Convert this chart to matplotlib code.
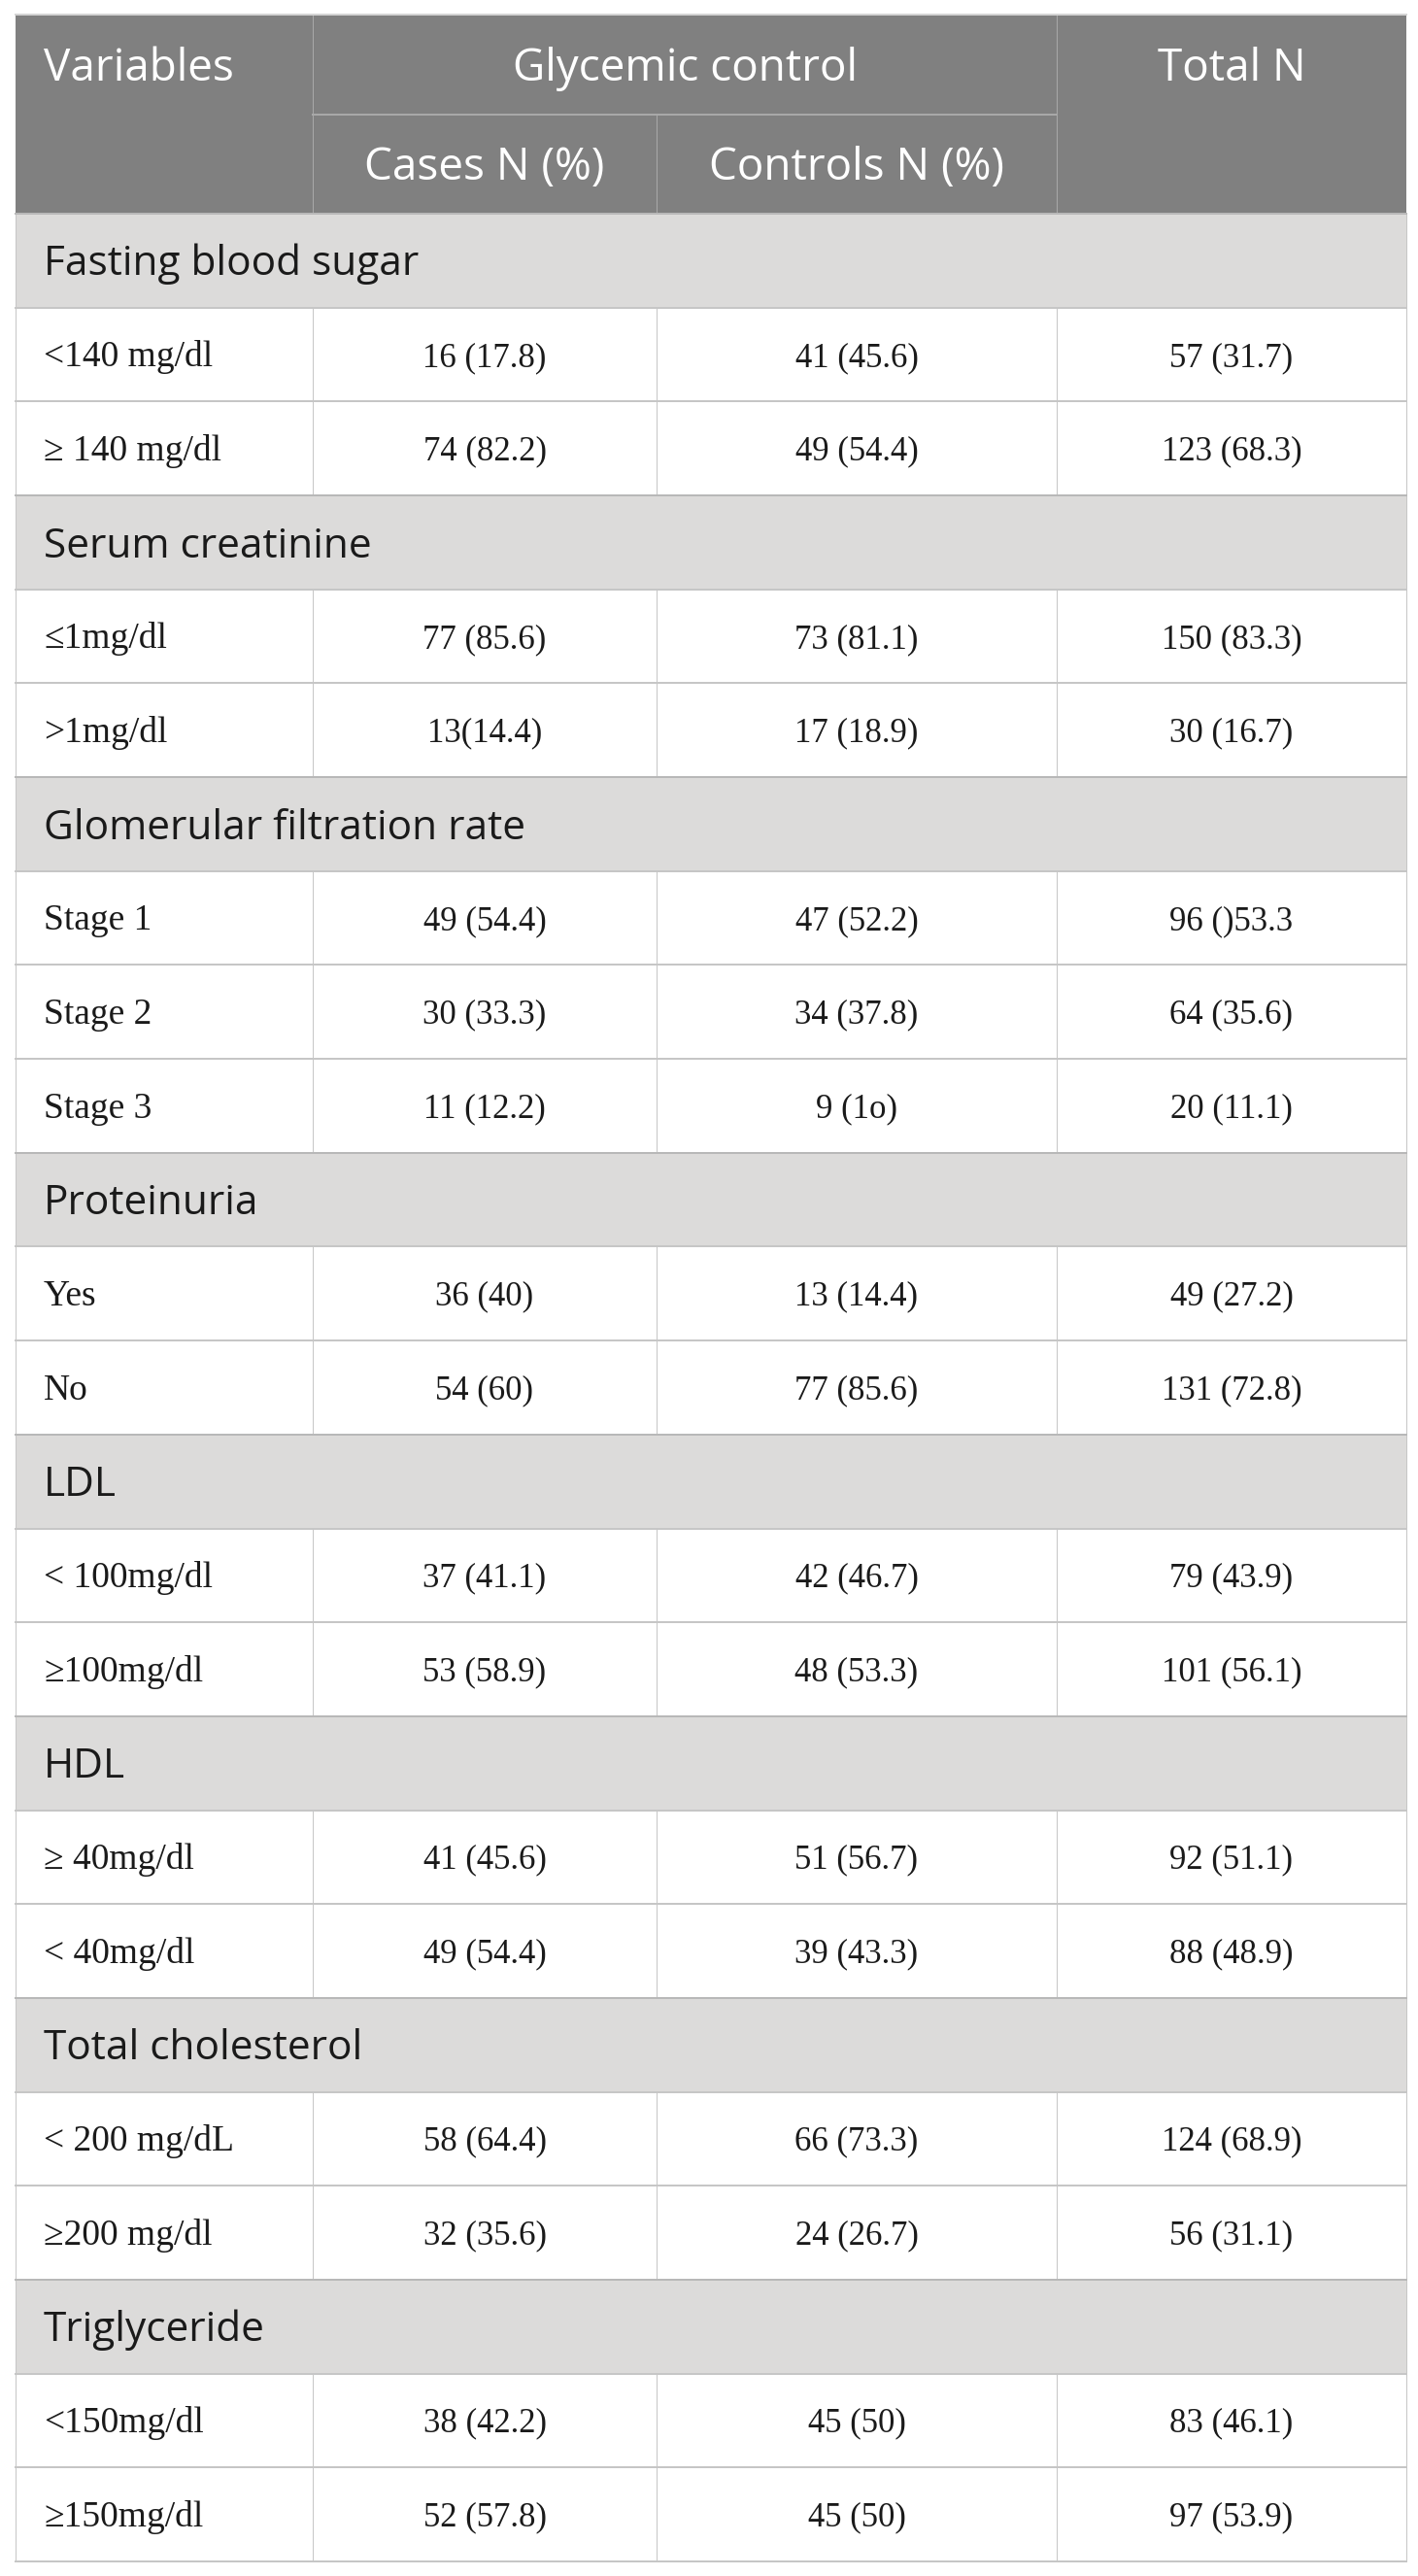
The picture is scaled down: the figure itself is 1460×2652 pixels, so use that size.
import matplotlib
matplotlib.use("Agg")
import matplotlib.pyplot as plt
from matplotlib.patches import Rectangle

# table content
header_top = ["Variables", "Glycemic control", "Total N"]
header_sub = ["Cases N (%)", "Controls N (%)"]

sections = ["Fasting blood sugar", "Serum creatinine", "Glomerular filtration rate",
            "Proteinuria", "LDL", "HDL", "Total cholesterol", "Triglyceride"]
section_sizes = [2, 2, 3, 2, 2, 2, 2, 2]

row_labels = ["<140 mg/dl", "\u2265 140 mg/dl",
              "\u22641mg/dl", ">1mg/dl",
              "Stage 1", "Stage 2", "Stage 3",
              "Yes", "No",
              "< 100mg/dl", "\u2265100mg/dl",
              "\u2265 40mg/dl", "< 40mg/dl",
              "< 200 mg/dL", "\u2265200 mg/dl",
              "<150mg/dl", "\u2265150mg/dl"]
cases = ["16 (17.8)", "74 (82.2)", "77 (85.6)", "13(14.4)", "49 (54.4)", "30 (33.3)",
         "11 (12.2)", "36 (40)", "54 (60)", "37 (41.1)", "53 (58.9)", "41 (45.6)",
         "49 (54.4)", "58 (64.4)", "32 (35.6)", "38 (42.2)", "52 (57.8)"]
controls = ["41 (45.6)", "49 (54.4)", "73 (81.1)", "17 (18.9)", "47 (52.2)", "34 (37.8)",
            "9 (1o)", "13 (14.4)", "77 (85.6)", "42 (46.7)", "48 (53.3)", "51 (56.7)",
            "39 (43.3)", "66 (73.3)", "24 (26.7)", "45 (50)", "45 (50)"]
totals = ["57 (31.7)", "123 (68.3)", "150 (83.3)", "30 (16.7)", "96 ()53.3", "64 (35.6)",
          "20 (11.1)", "49 (27.2)", "131 (72.8)", "79 (43.9)", "101 (56.1)", "92 (51.1)",
          "88 (48.9)", "124 (68.9)", "56 (31.1)", "83 (46.1)", "97 (53.9)"]

W, H, DPI = 1460, 2652, 100
SANS = ["Open Sans", "DejaVu Sans"]
SERIF = ["Liberation Serif", "DejaVu Serif"]
HEAD_SIZE = 33
SEC_SIZE = 30.5
LABEL_SIZE = 27
NUM_SIZE = 25

HEAD_BG = "#808080"
SEC_BG = "#dcdbda"
LINE = "#c6c6c6"
HEAD_LINE = "#a8a8a8"
INK = "#1a1a1a"

xs = [16, 322, 676, 1088, 1448]
y_top, y_mid, y_head = 15, 118, 220
y_bot = 2637
n_rows = len(sections) + sum(section_sizes)
row_h = (y_bot - y_head) / n_rows

fig = plt.figure(figsize=(W / DPI, H / DPI), dpi=DPI)
ax = fig.add_axes([0, 0, 1, 1])
ax.set_xlim(0, W)
ax.set_ylim(H, 0)
ax.axis("off")


def px(v):
    return v * 72 / DPI


def put(x, yc, s, ha, fam, size, color, cap):
    # baseline placed so the cap height sits centred on yc
    ax.text(x, yc + size * DPI / 72 * cap / 2, s, ha=ha, va="baseline",
            family=fam, fontsize=size, color=color)


# header block
ax.add_patch(Rectangle((xs[0], y_top), xs[-1] - xs[0], y_head - y_top,
                       facecolor=HEAD_BG, edgecolor="none"))
ax.plot([xs[1], xs[3]], [y_mid, y_mid], color=HEAD_LINE, lw=px(2))
for x in [xs[1], xs[3]]:
    ax.plot([x, x], [y_top, y_head], color=HEAD_LINE, lw=px(1))
ax.plot([xs[2], xs[2]], [y_mid, y_head], color=HEAD_LINE, lw=px(1))
ax.plot([xs[0], xs[-1]], [y_top, y_top], color="#d4d4d4", lw=px(2))

yc1 = (y_top + y_mid) / 2
yc2 = (y_mid + y_head) / 2
put(xs[0] + 29, yc1, header_top[0], "left", SANS, HEAD_SIZE, "white", 0.714)
put((xs[1] + xs[3]) / 2, yc1, header_top[1], "center", SANS, HEAD_SIZE, "white", 0.714)
put((xs[3] + xs[4]) / 2, yc1, header_top[2], "center", SANS, HEAD_SIZE, "white", 0.714)
put((xs[1] + xs[2]) / 2, yc2, header_sub[0], "center", SANS, HEAD_SIZE, "white", 0.714)
put((xs[2] + xs[3]) / 2, yc2, header_sub[1], "center", SANS, HEAD_SIZE, "white", 0.714)

# body
y = y_head
k = 0
for name, n in zip(sections, section_sizes):
    ax.add_patch(Rectangle((xs[0], y), xs[-1] - xs[0], row_h,
                           facecolor=SEC_BG, edgecolor="none"))
    put(xs[0] + 29, y + row_h / 2, name, "left", SANS, SEC_SIZE, INK, 0.714)
    ax.plot([xs[0], xs[0]], [y, y + row_h], color=LINE, lw=px(1))
    ax.plot([xs[-1], xs[-1]], [y, y + row_h], color=LINE, lw=px(1))
    ax.plot([xs[0], xs[-1]], [y, y], color="#b8b8b8", lw=px(2))
    y += row_h
    for _ in range(n):
        ax.plot([xs[0], xs[-1]], [y, y], color=LINE, lw=px(2))
        for x in xs:
            ax.plot([x, x], [y, y + row_h], color=LINE, lw=px(1))
        yc = y + row_h / 2
        put(xs[0] + 29, yc, row_labels[k], "left", SERIF, LABEL_SIZE, INK, 0.66)
        for j, col in enumerate([cases, controls, totals]):
            put((xs[j + 1] + xs[j + 2]) / 2, yc, col[k], "center", SERIF, NUM_SIZE,
                INK, 0.68)
        y += row_h
        k += 1
ax.plot([xs[0], xs[-1]], [y, y], color=LINE, lw=px(2))

fig.savefig("out.png", dpi=DPI, facecolor="white")
